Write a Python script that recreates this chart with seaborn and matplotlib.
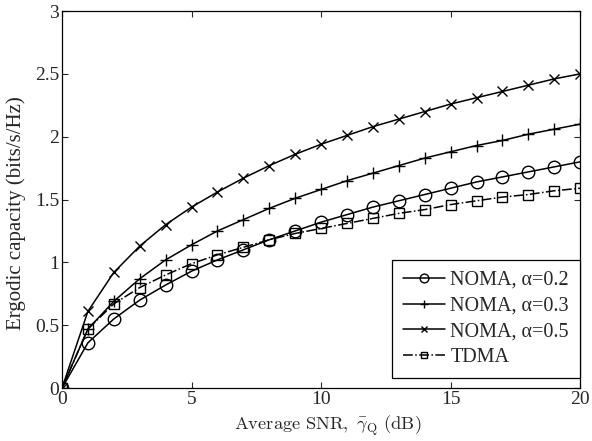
import numpy as np
import pandas as pd
import seaborn as sns
import matplotlib
matplotlib.use("Agg")
import matplotlib.pyplot as plt

snr = list(range(0, 21))
noma_02 = [0, 0.36, 0.55, 0.70, 0.82, 0.93, 1.02, 1.10, 1.18, 1.25, 1.32, 1.38, 1.44, 1.49, 1.54, 1.59, 1.64, 1.68, 1.72, 1.76, 1.80]
noma_03 = [0, 0.47, 0.69, 0.87, 1.02, 1.14, 1.25, 1.34, 1.43, 1.51, 1.58, 1.65, 1.71, 1.77, 1.83, 1.88, 1.93, 1.97, 2.02, 2.06, 2.10]
noma_05 = [0, 0.61, 0.92, 1.13, 1.30, 1.44, 1.56, 1.67, 1.77, 1.86, 1.94, 2.01, 2.08, 2.14, 2.20, 2.26, 2.31, 2.36, 2.41, 2.46, 2.50]
tdma = [0, 0.47, 0.67, 0.80, 0.90, 0.99, 1.06, 1.12, 1.18, 1.23, 1.27, 1.31, 1.35, 1.39, 1.42, 1.46, 1.49, 1.52, 1.54, 1.57, 1.59]
labels = ["NOMA, α=0.2", "NOMA, α=0.3", "NOMA, α=0.5", "TDMA"]

sns.set_style("ticks")
plt.rcParams['font.family'] = ['Liberation Serif', 'DejaVu Serif']
plt.rcParams['mathtext.fontset'] = 'cm'

fig = plt.figure(figsize=(5.92, 4.41), dpi=100)
ax = fig.add_axes([0.1047, 0.120, 0.8753, 0.855])

series = [noma_02, noma_03, noma_05, tdma]
markers = ['o', '+', 'x', 's']
msizes = [9, 9, 7, 6.5]
styles = ['-', '-', '-', '-.']
for vals, lab, m, ms, ls in zip(series, labels, markers, msizes, styles):
    df = pd.DataFrame({"snr": snr, "cap": vals})
    sns.lineplot(data=df, x="snr", y="cap", ax=ax, color='black', marker=m,
                 markersize=ms, markerfacecolor='none', markeredgecolor='black',
                 markeredgewidth=1.0, linestyle=ls, linewidth=1.1, label=lab)

ax.set_xlim(0, 20)
ax.set_ylim(0, 3)
ax.set_xticks([0, 5, 10, 15, 20])
ax.set_yticks([0, 0.5, 1, 1.5, 2, 2.5, 3])
ax.set_yticklabels(['0', '0.5', '1', '1.5', '2', '2.5', '3'])
ax.tick_params(direction='in', top=True, right=True, labelsize=14, length=4, width=0.8, pad=2)
ax.set_xlabel(r'$\mathrm{Average\ SNR,}\ \bar{\gamma}_{\mathrm{Q}}\ \mathrm{(dB)}$', fontsize=13.3)
ax.set_ylabel('Ergodic capacity (bits/s/Hz)', fontsize=15)
ax.yaxis.set_label_coords(-0.070, 0.465)
ax.xaxis.set_label_coords(0.512, -0.068)
for s in ax.spines.values():
    s.set_linewidth(0.9)
    s.set_color('black')
leg = ax.legend(loc='lower right', bbox_to_anchor=(1.0, 0.026), fontsize=14.5,
                frameon=True, fancybox=False, markerscale=0.7,
                edgecolor='black', framealpha=1, borderpad=0.55, labelspacing=0.33,
                handlelength=2.1, handletextpad=0.25, borderaxespad=0)
leg.get_frame().set_linewidth(0.9)
fig.savefig("out.png", dpi=100)
